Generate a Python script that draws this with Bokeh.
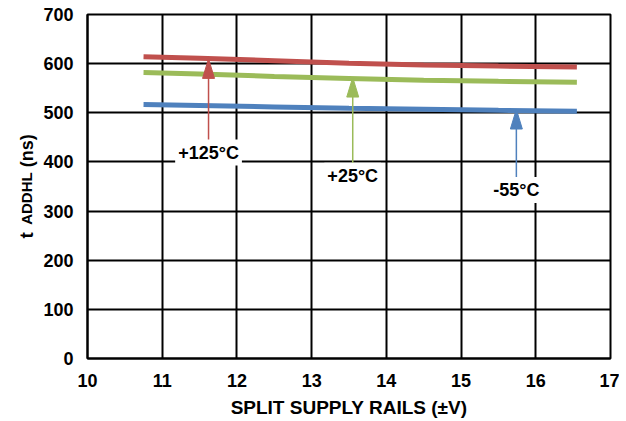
from bokeh.plotting import figure
from bokeh.models import Range1d, Label, FixedTicker
from bokeh.layouts import row
from bokeh.embed import file_html
from bokeh.resources import INLINE
import math

# Data
supply_v = [10.75, 11.5, 12.5, 13.5, 14.5, 15.5, 16.55]
t_125c = [614, 611, 606, 601, 597, 595, 593]
t_25c = [582, 579, 574, 570, 566, 564, 562]
t_m55c = [517, 515, 512, 509, 507, 505, 503]

x_ticks = [10, 11, 12, 13, 14, 15, 16, 17]
y_ticks = [0, 100, 200, 300, 400, 500, 600, 700]

# annotations: text, arrow x, arrow tail y, arrow tip y, label y
ann_text = ["+125°C", "+25°C", "-55°C"]
ann_x = [11.62, 13.55, 15.74]
ann_tail = [444, 397, 368]
ann_tip = [610, 572, 507]
ann_label_y = [419, 372, 343]

colors = ["#c0504d", "#9bbb59", "#4f81bd"]
FONT = "Liberation Sans"

LEFT_W = 40
p = figure(frame_width=523, frame_height=344, output_backend="svg",
           toolbar_location=None, x_range=Range1d(10, 17), y_range=Range1d(0, 700),
           min_border_left=86 - LEFT_W, min_border_right=9, min_border_top=14,
           min_border_bottom=62)

p.outline_line_color = "black"
p.outline_line_width = 2
for ax in (p.xaxis[0], p.yaxis[0]):
    ax.axis_line_color = "black"
    ax.axis_line_width = 2
    ax.major_tick_line_color = None
    ax.minor_tick_line_color = None
    ax.major_label_text_font = FONT
    ax.major_label_text_font_style = "bold"
    ax.major_label_text_font_size = "18px"
    ax.major_label_text_color = "black"
p.xaxis.ticker = FixedTicker(ticks=x_ticks)
p.yaxis.ticker = FixedTicker(ticks=y_ticks)
p.xaxis.major_label_standoff = 9
p.yaxis.major_label_standoff = 8
p.xaxis.axis_label = "SPLIT SUPPLY RAILS (±V)"
p.xaxis.axis_label_text_font = FONT
p.xaxis.axis_label_text_font_style = "bold"
p.xaxis.axis_label_text_font_size = "19px"
p.xaxis.axis_label_text_color = "black"
p.xaxis.axis_label_standoff = 7

p.grid.grid_line_color = "black"
p.grid.grid_line_width = 2
p.grid.grid_line_alpha = 1.0
p.xgrid.ticker = FixedTicker(ticks=x_ticks)
p.ygrid.ticker = FixedTicker(ticks=y_ticks)

for ys, c in zip([t_125c, t_25c, t_m55c], colors):
    p.line(supply_v, ys, line_color=c, line_width=5)

# arrows: shaft + narrow triangular head
head_len = 40       # in data units (ns)
head_half_w = 0.08  # in data units (V)
for ax_, tl, tp, c in zip(ann_x, ann_tail, ann_tip, colors):
    p.segment(x0=[ax_], y0=[tl], x1=[ax_], y1=[tp - head_len + 2], line_color=c, line_width=1.5)
    p.patch(x=[ax_ - head_half_w, ax_, ax_ + head_half_w],
            y=[tp - head_len, tp, tp - head_len],
            fill_color=c, line_color=c, line_width=1)

for txt, ax_, ly in zip(ann_text, ann_x, ann_label_y):
    p.add_layout(Label(x=ax_, y=ly, text=txt, text_align="center", text_baseline="middle",
                       text_font=FONT, text_font_style="bold", text_font_size="18px",
                       text_color="black", background_fill_color="white",
                       padding=3))

# narrow side figure holding the y axis title (with subscript), sharing the y range
side = figure(frame_width=LEFT_W, frame_height=344, output_backend="svg",
              toolbar_location=None, x_range=Range1d(0, LEFT_W), y_range=p.y_range,
              x_axis_location=None, y_axis_location=None,
              min_border_left=0, min_border_right=0, min_border_top=14,
              min_border_bottom=62)
side.outline_line_color = None
side.grid.visible = False

ylab_x = 26
side.add_layout(Label(x=ylab_x, y=244, text="t", angle=math.pi / 2, text_font=FONT,
                      text_font_style="bold", text_font_size="19px",
                      text_align="left", text_baseline="alphabetic", text_color="black"))
side.add_layout(Label(x=ylab_x, y=272, text="ADDHL", angle=math.pi / 2, text_font=FONT,
                      text_font_style="bold", text_font_size="15px",
                      text_align="left", text_baseline="alphabetic", text_color="black"))
side.add_layout(Label(x=ylab_x, y=389, text="(ns)", angle=math.pi / 2, text_font=FONT,
                      text_font_style="bold", text_font_size="18px",
                      text_align="left", text_baseline="alphabetic", text_color="black"))

layout = row(side, p, spacing=0)
open("out.html", "w").write(file_html(layout, INLINE))
